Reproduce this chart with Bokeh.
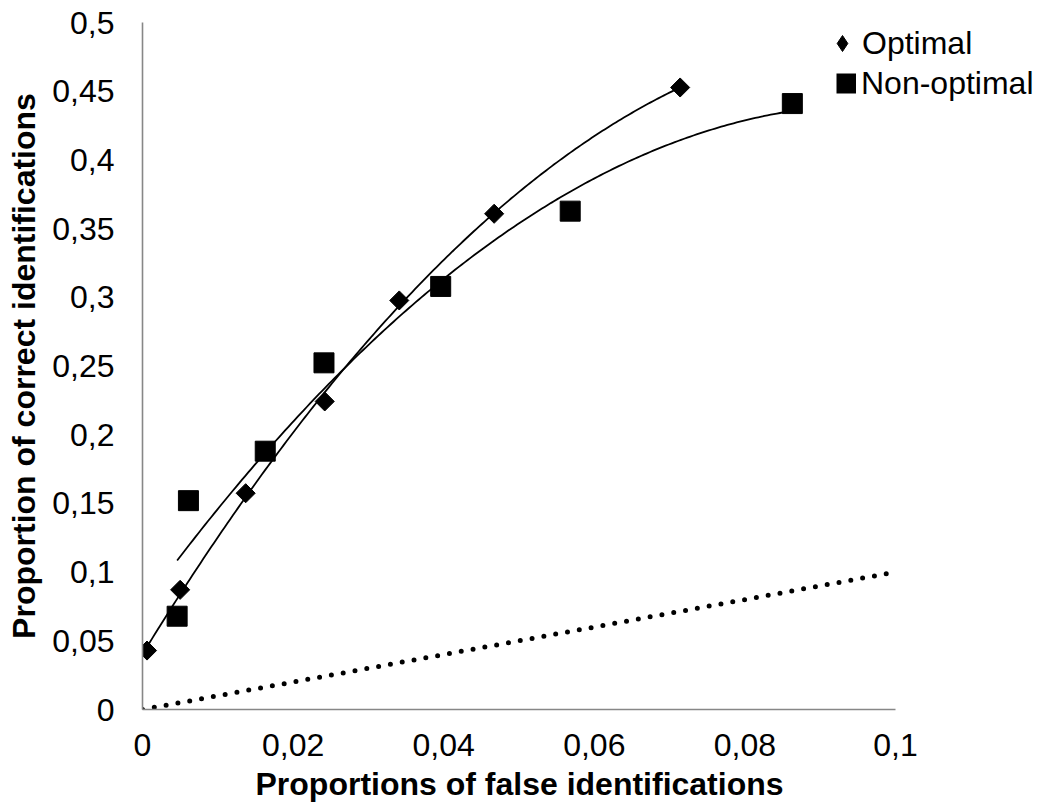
import numpy as np
from bokeh.plotting import figure
from bokeh.models import Range1d, FixedTicker, CustomJSTickFormatter, Legend, LegendItem, Title
from bokeh.embed import file_html
from bokeh.resources import INLINE

# ---- data ----
opt_x = [0.0006, 0.0050, 0.0137, 0.0242, 0.0341, 0.0467, 0.0714]
opt_y = [0.0429, 0.0871, 0.1574, 0.2242, 0.2977, 0.3608, 0.4527]
non_x = [0.0046, 0.0061, 0.0163, 0.0241, 0.0396, 0.0568, 0.0863]
non_y = [0.0679, 0.1520, 0.1880, 0.2523, 0.3079, 0.3627, 0.4410]
chance_x = [0.0, 0.1]
chance_y = [0.0, 0.1]
x_ticks = [0, 0.02, 0.04, 0.06, 0.08, 0.1]
y_ticks = [0, 0.05, 0.1, 0.15, 0.2, 0.25, 0.3, 0.35, 0.4, 0.45, 0.5]
series_names = ["Optimal", "Non-optimal"]
x_title = "Proportions of false identifications"
y_title = "Proportion of correct identifications"

FONT = "Liberation Sans"
W, H = 1040, 811
LEFT, TOP, BOTTOM = 142, 22, 102
AXIS_PX = 753                     # pixels spanned by x = 0 .. 0.1
x_end = 0.1 * (W - LEFT) / AXIS_PX  # frame extends right so the legend fits

p = figure(width=W, height=H,
           x_range=Range1d(0, x_end), y_range=Range1d(0, 0.5),
           min_border_left=LEFT, min_border_right=0,
           min_border_top=TOP, min_border_bottom=BOTTOM,
           output_backend="svg", toolbar_location=None)
p.grid.visible = False
p.outline_line_color = None
p.background_fill_color = "white"
p.border_fill_color = "white"

# trendlines: 2nd-order polynomial fits of each series (as in the source chart)
def trend(xs, ys):
    c = np.polyfit(xs, ys, 2)
    gx = np.linspace(min(xs), max(xs), 200)
    return gx, np.polyval(c, gx)

tx, ty = trend(opt_x, opt_y)
p.line(tx, ty, line_color="black", line_width=1.8)
nx, ny = trend(non_x, non_y)
p.line(nx, ny, line_color="black", line_width=1.8)

# chance diagonal
p.line(chance_x, chance_y, line_color="black", line_width=5,
       line_dash="0 12", line_cap="round")

# data markers
p.scatter(opt_x, opt_y, marker="square", angle=np.pi / 4, size=13.5,
          fill_color="black", line_color="black")
p.scatter(non_x, non_y, marker="square", size=20,
          fill_color="black", line_color="black")

# legend-only (hidden) renderers of the same series, giving the legend glyph shapes
leg_opt = p.scatter(opt_x, opt_y, marker="diamond", fill_color="black",
                    line_color="black", visible=False)
leg_non = p.line(non_x, non_y, line_color="black", line_width=20, visible=False)

# axes
fmt = CustomJSTickFormatter(code="return (Math.round(tick*1000)/1000).toString().replace('.', ',');")
p.xaxis.ticker = FixedTicker(ticks=x_ticks)
p.yaxis.ticker = FixedTicker(ticks=y_ticks)
p.xaxis.formatter = fmt
p.yaxis.formatter = fmt
p.xaxis.bounds = (0, 0.1)
p.yaxis.bounds = (0, 0.5)
p.yaxis.axis_label = y_title
for ax in (p.xaxis[0], p.yaxis[0]):
    ax.axis_line_color = "#878787"
    ax.axis_line_width = 1.6
    ax.major_tick_line_color = None
    ax.minor_tick_line_color = None
    ax.major_tick_out = 0
    ax.major_tick_in = 0
    ax.major_label_text_font = FONT
    ax.major_label_text_font_size = "32px"
    ax.major_label_text_color = "black"
    ax.axis_label_text_font = FONT
    ax.axis_label_text_font_size = "32px"
    ax.axis_label_text_font_style = "bold"
    ax.axis_label_text_color = "black"
p.xaxis.major_label_standoff = 24
p.yaxis.major_label_standoff = 28
p.yaxis.axis_label_standoff = 7

# x-axis title placed under the axis span (not the wider frame)
p.add_layout(Title(text=x_title, align="left", offset=113, standoff=11,
                   text_font=FONT, text_font_size="32px", text_font_style="bold",
                   text_color="black"), "below")

# legends (one per entry so each glyph keeps its own size)
def make_legend(label, renderer, gw, gh, loc, standoff):
    lg = Legend(items=[LegendItem(label=label, renderers=[renderer])],
                location=loc, glyph_width=gw, glyph_height=gh,
                label_standoff=standoff, padding=0, margin=0, spacing=0,
                border_line_color=None, background_fill_alpha=0,
                label_text_font=FONT, label_text_font_size="32px",
                label_text_color="black")
    p.add_layout(lg, "center")

make_legend(series_names[0], leg_opt, 40, 40, (680, 646), 0)
make_legend(series_names[1], leg_non, 20, 40, (694, 606), 5)

open("out.html", "w").write(file_html(p, INLINE))
